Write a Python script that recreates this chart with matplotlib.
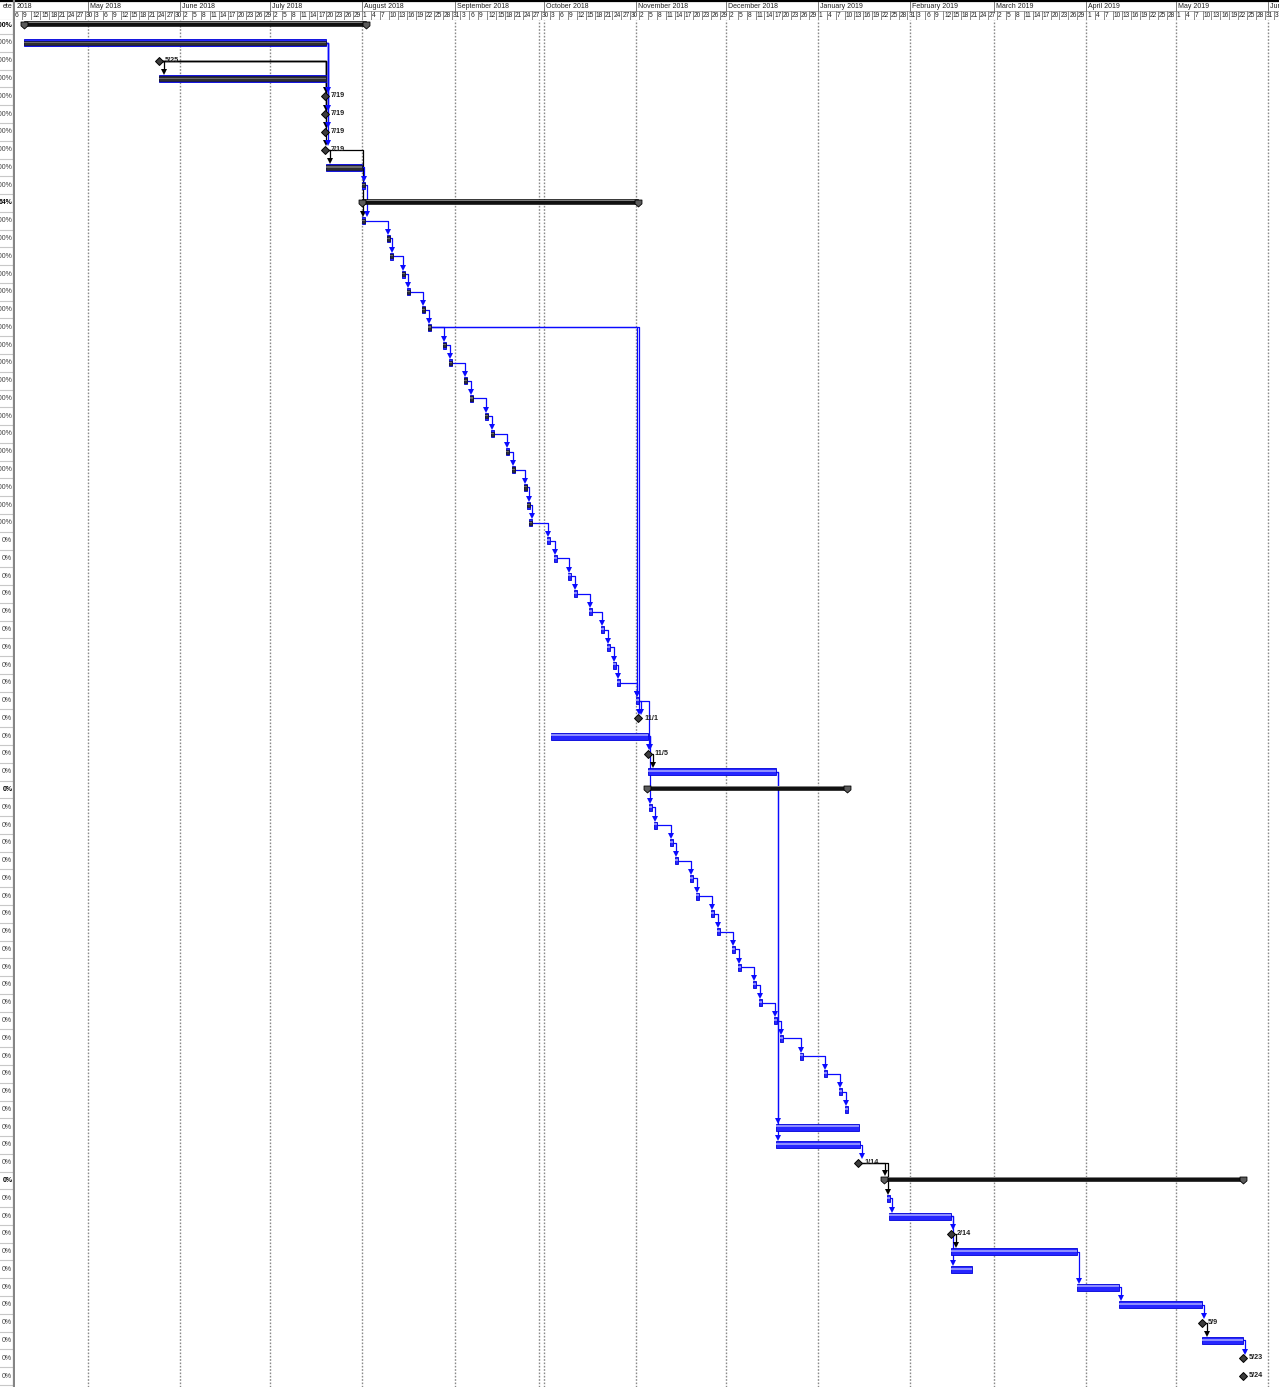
import matplotlib
matplotlib.use("Agg")
import matplotlib.pyplot as plt
import matplotlib.dates as mdates
from matplotlib.path import Path
import pandas as pd

plt.rcParams['font.family'] = ['Liberation Sans', 'DejaVu Sans']

# ------------------------------------------------------------------ data
# kind: S = summary, T = task, M = milestone
kinds = ['S', 'T', 'M', 'T', 'M', 'M', 'M', 'M', 'T', 'T',
         'S'] + ['T'] * 28 + ['M', 'T', 'M', 'T',
         'S'] + ['T'] * 20 + ['M',
         'S', 'T', 'T', 'M', 'T', 'T', 'T', 'T', 'M', 'T', 'M', 'M']

starts = [
    '2018-04-09 12:00', '2018-04-09 12:00', '2018-05-24 20:00', '2018-05-24 20:00',
    '2018-07-19 12:00', '2018-07-19 12:00', '2018-07-19 12:00', '2018-07-19 12:00',
    '2018-07-19 22:00', '2018-08-01 00:00',
    '2018-07-31 22:00',
    '2018-08-01 00:00', '2018-08-09 08:00', '2018-08-10 08:00', '2018-08-14 10:00',
    '2018-08-16 00:00', '2018-08-21 02:00', '2018-08-23 02:00', '2018-08-28 02:00',
    '2018-08-30 02:00', '2018-09-04 05:00', '2018-09-06 05:00', '2018-09-11 05:00',
    '2018-09-13 05:00', '2018-09-18 07:00', '2018-09-20 07:00', '2018-09-24 07:00',
    '2018-09-25 07:00', '2018-09-26 00:00', '2018-10-02 00:00', '2018-10-04 10:00',
    '2018-10-09 02:00', '2018-10-11 02:00', '2018-10-16 02:00', '2018-10-20 02:00',
    '2018-10-22 05:00', '2018-10-24 05:00', '2018-10-25 12:00', '2018-10-31 22:00',
    '2018-11-01 14:00', '2018-10-03 10:00', '2018-11-04 22:00', '2018-11-04 22:00',
    '2018-11-04 14:00',
    '2018-11-05 07:00', '2018-11-07 00:00', '2018-11-12 07:00', '2018-11-14 00:00',
    '2018-11-19 00:00', '2018-11-21 00:00', '2018-11-26 02:00', '2018-11-28 02:00',
    '2018-12-03 02:00', '2018-12-05 02:00', '2018-12-10 05:00', '2018-12-12 05:00',
    '2018-12-17 05:00', '2018-12-19 05:00', '2018-12-25 22:00', '2019-01-03 00:00',
    '2019-01-08 00:00', '2019-01-10 00:00', '2018-12-17 22:00', '2018-12-17 22:00',
    '2019-01-14 10:00',
    '2019-01-23 02:00', '2019-01-24 00:00', '2019-01-24 20:00', '2019-02-14 14:00',
    '2019-02-14 14:00', '2019-02-14 14:00', '2019-03-28 20:00', '2019-04-11 20:00',
    '2019-05-09 20:00', '2019-05-09 20:00', '2019-05-23 14:00', '2019-05-23 14:00',
]

finishes = [
    '2018-08-02 08:00', '2018-07-20 00:00', '2018-05-24 20:00', '2018-07-20 00:00',
    '2018-07-19 12:00', '2018-07-19 12:00', '2018-07-19 12:00', '2018-07-19 12:00',
    '2018-08-01 00:00', '2018-08-02 00:00',
    '2018-11-01 14:00',
    '2018-08-02 00:00', '2018-08-10 08:00', '2018-08-11 08:00', '2018-08-15 10:00',
    '2018-08-17 00:00', '2018-08-22 02:00', '2018-08-24 02:00', '2018-08-29 02:00',
    '2018-08-31 02:00', '2018-09-05 05:00', '2018-09-07 05:00', '2018-09-12 05:00',
    '2018-09-14 05:00', '2018-09-19 07:00', '2018-09-21 07:00', '2018-09-25 07:00',
    '2018-09-26 07:00', '2018-09-27 00:00', '2018-10-03 00:00', '2018-10-05 10:00',
    '2018-10-10 02:00', '2018-10-12 02:00', '2018-10-17 02:00', '2018-10-21 02:00',
    '2018-10-23 05:00', '2018-10-25 05:00', '2018-10-26 12:00', '2018-11-01 22:00',
    '2018-11-01 14:00', '2018-11-04 22:00', '2018-11-04 22:00', '2018-12-17 22:00',
    '2019-01-10 14:00',
    '2018-11-06 07:00', '2018-11-08 00:00', '2018-11-13 07:00', '2018-11-15 00:00',
    '2018-11-20 00:00', '2018-11-22 00:00', '2018-11-27 02:00', '2018-11-29 02:00',
    '2018-12-04 02:00', '2018-12-06 02:00', '2018-12-11 05:00', '2018-12-13 05:00',
    '2018-12-18 05:00', '2018-12-20 05:00', '2018-12-26 22:00', '2019-01-04 00:00',
    '2019-01-09 00:00', '2019-01-11 00:00', '2019-01-14 17:00', '2019-01-15 00:00',
    '2019-01-14 10:00',
    '2019-05-23 14:00', '2019-01-25 00:00', '2019-02-14 14:00', '2019-02-14 14:00',
    '2019-03-28 20:00', '2019-02-21 14:00', '2019-04-11 20:00', '2019-05-09 20:00',
    '2019-05-09 20:00', '2019-05-23 14:00', '2019-05-23 14:00', '2019-05-23 14:00',
]

pct_complete = [100] * 10 + [64] + [100] * 18 + [0] * 48

milestone_labels = {3: '5/25', 5: '7/19', 6: '7/19', 7: '7/19', 8: '7/19',
                    40: '11/1', 42: '11/5', 65: '1/14', 69: '2/14', 74: '5/9',
                    76: '5/23', 77: '5/24'}

# finish-to-start links (1-based row numbers)
links = ([(3, 4)] + [(3, r) for r in (5, 6, 7, 8)] + [(2, r) for r in (5, 6, 7, 8)]
         + [(8, 9), (8, 12), (9, 10), (10, 12)]
         + [(r, r + 1) for r in range(12, 39)]
         + [(18, 39), (18, 40), (39, 40), (39, 42), (41, 42), (41, 45), (42, 43)]
         + [(r, r + 1) for r in range(45, 62)]
         + [(43, 63), (43, 64), (64, 65), (65, 66), (65, 67), (67, 68), (68, 69),
            (68, 71), (69, 70), (70, 72), (72, 73), (73, 74), (74, 75), (75, 76)])

month_labels = ['2018', 'May 2018', 'June 2018', 'July 2018', 'August 2018',
                'September 2018', 'October 2018', 'November 2018', 'December 2018',
                'January 2019', 'February 2019', 'March 2019', 'April 2019',
                'May 2019', 'June 2019']
month_starts = ['2018-04-06', '2018-05-01', '2018-06-01', '2018-07-01', '2018-08-01',
                '2018-09-01', '2018-10-01', '2018-11-01', '2018-12-01', '2019-01-01',
                '2019-02-01', '2019-03-01', '2019-04-01', '2019-05-01', '2019-06-01']
status_date = '2018-09-29 08:00'

# ------------------------------------------------------------------ layout
W, H = 1279, 1387
HDR = 20
COLX = 15
FIRST = 25.2
ROW = (1376 - FIRST) / 76
PXD = 2.98

fig = plt.figure(figsize=(W / 100, H / 100), dpi=100)
fig.patch.set_facecolor('white')
ax = fig.add_axes([COLX / W, 0, 1 - COLX / W, (H - HDR) / H])
axl = fig.add_axes([0, 0, COLX / W, (H - HDR) / H])
axh = fig.add_axes([COLX / W, (H - HDR) / H, 1 - COLX / W, HDR / H])
axhl = fig.add_axes([0, (H - HDR) / H, COLX / W, HDR / H])

t0 = mdates.date2num(pd.Timestamp('2018-05-01'))
x_left = t0 + (COLX - 88) / PXD
x_right = t0 + (W - 88) / PXD
y_top = (HDR - FIRST) / ROW
y_bot = (H - FIRST) / ROW

for a in (ax, axh):
    a.set_xlim(x_left, x_right)
for a in (ax, axl):
    a.set_ylim(y_bot, y_top)
axl.set_xlim(0, COLX)
axh.set_ylim(HDR, 0)
axhl.set_xlim(0, COLX)
axhl.set_ylim(HDR, 0)
for a in (ax, axl, axh, axhl):
    a.axis('off')


def dx(p):
    return p / PXD


def dy(p):
    return p / ROW


S = [mdates.date2num(pd.Timestamp(s)) for s in starts]
F = [mdates.date2num(pd.Timestamp(f)) for f in finishes]
N = len(kinds)

# ------------------------------------------------------------------ gridlines
for ms in month_starts[1:]:
    ax.axvline(mdates.date2num(pd.Timestamp(ms)), color='#8a8a8a', lw=1.0,
               ls=(0, (1.2, 1.2)), zorder=1)
ax.axvline(mdates.date2num(pd.Timestamp(status_date)), color='#8a8a8a', lw=1.0,
           ls=(0, (1.2, 1.2)), zorder=1)

# ------------------------------------------------------------------ links
BLUE = '#0a0aff'
SUM_UP = 1.5  # summary bars sit slightly above row centre


def out_x(k):
    if kinds[k] == 'M':
        return S[k] + dx(3)
    return F[k]


def top_off(k):
    return dy(2.5 + SUM_UP) if kinds[k] == 'S' else dy(3.5)


def row_y(k):
    return k - dy(SUM_UP) if kinds[k] == 'S' else k


for p, s in links:
    p -= 1
    s -= 1
    col = 'black' if kinds[p] in ('M', 'S') else BLUE
    x0 = out_x(p)
    xv = max(x0 + dx(2), S[s] + dx(1))
    y0 = row_y(p)
    ytip = s - top_off(s)
    yarr = ytip - dy(3.0)
    ax.plot([F[p] if kinds[p] != 'M' else S[p], xv, xv], [y0, y0, yarr],
            color=col, lw=0.9, zorder=2, solid_capstyle='butt')
    ax.plot([xv], [yarr], marker='v', markersize=4.8, color=col,
            markeredgewidth=0, zorder=2.5)

# ------------------------------------------------------------------ bars
cap = Path([(-1, 1), (1, 1), (1, -0.1), (0, -1), (-1, -0.1), (-1, 1)],
           [Path.MOVETO, Path.LINETO, Path.LINETO, Path.LINETO, Path.LINETO,
            Path.CLOSEPOLY])

for k in range(N):
    kind = kinds[k]
    y = row_y(k)
    if kind == 'T':
        w = F[k] - S[k]
        ax.barh(y, w, left=S[k], height=dy(7), color='#2626ff',
                edgecolor='#0000d8', lw=0.6, zorder=3)
        if pct_complete[k] >= 100:
            ax.barh(y, w, left=S[k], height=dy(4.4), color='#2e2e2e',
                    edgecolor='#101010', lw=0.4, zorder=3.2)
            ax.barh(y - dy(0.4), w, left=S[k], height=dy(1.1), color='#6a6a6a',
                    lw=0, zorder=3.3)
        else:
            ax.barh(y - dy(0.7), w, left=S[k], height=dy(2.0), color='#8c8cff',
                    lw=0, zorder=3.2)
    elif kind == 'S':
        w = F[k] - S[k]
        ax.barh(y, w, left=S[k], height=dy(4.6), color='#111111',
                edgecolor='black', lw=0.4, zorder=3)
        ax.barh(y - dy(1.0), w, left=S[k], height=dy(1.0), color='#808080',
                lw=0, zorder=3.1)
        ax.plot([S[k], F[k]], [y + dy(1.2), y + dy(1.2)], ls='none', marker=cap,
                markersize=5.0, markerfacecolor='#5a5a5a', markeredgecolor='black',
                markeredgewidth=0.6, zorder=3.4)
    else:
        ax.plot([S[k]], [y], marker='D', markersize=4.3, markerfacecolor='#3c3c3c',
                markeredgecolor='black', markeredgewidth=0.7, zorder=4)
        lab = milestone_labels.get(k + 1, '')
        ax.text(S[k] + dx(6), y - dy(0.3), lab, fontsize=5.2, fontweight='bold',
                color='#202020', va='center', ha='left', zorder=5)

# ------------------------------------------------------------------ left column
for k in range(N):
    bold = kinds[k] == 'S'
    axl.text(12.3, k, f'{pct_complete[k]}%', fontsize=5,
             fontweight='bold' if bold else 'normal',
             color='black' if bold else '#404040', ha='right', va='center',
             clip_on=True)
    axl.plot([0, 13], [k + 0.5, k + 0.5], color='#c8c8c8', lw=0.8)
axl.plot([14, 14], [y_top, y_bot], color='#858585', lw=1.6)

# ------------------------------------------------------------------ header
axh.axhline(0.6, color='black', lw=1.6)
axhl.axhline(0.6, color='black', lw=1.6)
axh.axhline(10.5, color='#9a9a9a', lw=0.6)
axh.axhline(19.5, color='#9a9a9a', lw=0.8)
axhl.axhline(19.5, color='#9a9a9a', lw=0.8)
axhl.plot([14, 14], [1, 20], color='#858585', lw=1.6)
axhl.text(12.5, 7, 'ete', fontsize=5, ha='right', va='center', color='#202020',
          clip_on=True)

for lab, ms in zip(month_labels, month_starts):
    xm = mdates.date2num(pd.Timestamp(ms))
    if lab != month_labels[0]:
        axh.plot([xm, xm], [1.5, 10.5], color='#7a7a7a', lw=0.7)
        xt = xm + dx(2)
    else:
        xt = x_left + dx(2)
    axh.text(xt, 6.3, lab, fontsize=5, ha='left', va='center', color='#202020',
             clip_on=True)

day_ticks = pd.date_range('2018-04-06', '2019-06-05', freq='3D')
for d in day_ticks:
    xd = mdates.date2num(d)
    axh.plot([xd, xd], [10.5, 19.5], color='#7a7a7a', lw=0.6)
    axh.text(xd + dx(0.8), 15.2, str(d.day), fontsize=4.8, ha='left', va='center',
             color='#202020', clip_on=True)

fig.savefig('out.png', dpi=100)
